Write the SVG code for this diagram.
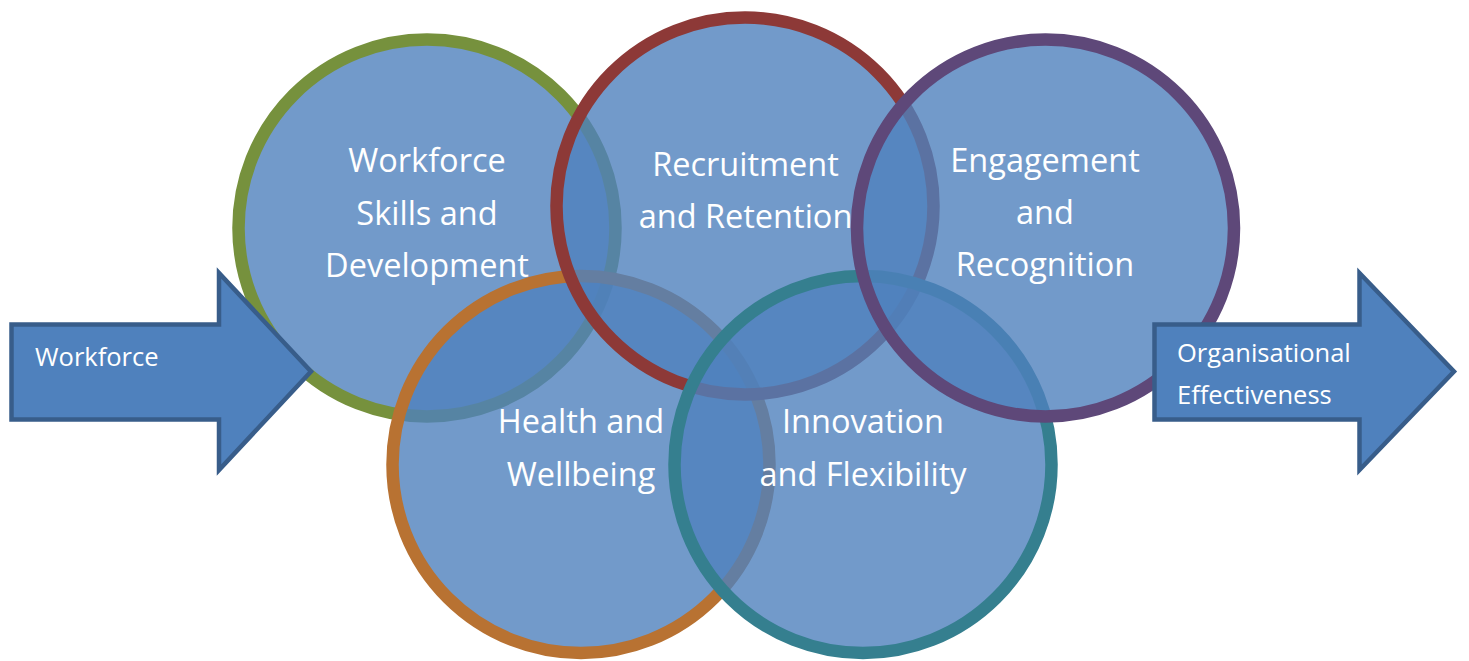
<svg xmlns="http://www.w3.org/2000/svg" width="1469" height="661" viewBox="0 0 1469 661">
<style>
.c{fill:#4F81BD;fill-opacity:0.8;stroke-width:12.5}
.t{font-family:"Open Sans","Liberation Sans",sans-serif;font-size:32.5px;fill:#FFFFFF;text-anchor:middle}
.a{fill:#4F81BD;stroke:#385D8A;stroke-width:4.5;stroke-linejoin:miter}
.at{font-family:"Open Sans","Liberation Sans",sans-serif;font-size:25.5px;fill:#FFFFFF}
</style>
<rect width="1469" height="661" fill="#FFFFFF"/>
<g id="skills">
<circle class="c" cx="427" cy="228" r="188.5" stroke="#76913D"/>
<text class="t" x="427" y="172">Workforce</text>
<text class="t" x="427" y="225">Skills and</text>
<text class="t" x="427" y="277">Development</text>
</g>
<g id="health">
<circle class="c" cx="581" cy="464.5" r="188.5" stroke="#B87232"/>
</g>
<g id="recruitment">
<circle class="c" cx="745" cy="206" r="188.5" stroke="#8D3937"/>
</g>
<g id="innovation">
<circle class="c" cx="863" cy="464.5" r="188.5" stroke="#357F8F"/>
</g>
<g id="engagement">
<circle class="c" cx="1045.5" cy="228" r="188.5" stroke="#5E4879"/>
</g>
<g id="labels">
<text class="t" x="745.5" y="176">Recruitment</text>
<text class="t" x="745.5" y="228">and Retention</text>
<text class="t" x="1045" y="172">Engagement</text>
<text class="t" x="1045" y="224">and</text>
<text class="t" x="1045" y="276">Recognition</text>
<text class="t" x="581" y="433">Health and</text>
<text class="t" x="581" y="486">Wellbeing</text>
<text class="t" x="863" y="433">Innovation</text>
<text class="t" x="863" y="486">and Flexibility</text>
</g>
<g id="connectors">
<g id="arrow-workforce">
<path class="a" d="M11.5,324.5 H219 V273 L311,371.5 L219,470 V419.5 H11.5 Z"/>
<text class="at" x="35" y="366">Workforce</text>
</g>
<g id="arrow-effectiveness">
<path class="a" d="M1154.5,324.5 H1359.5 V273 L1454,371.5 L1359.5,470 V419.5 H1154.5 Z"/>
<text class="at" x="1177" y="362">Organisational</text>
<text class="at" x="1177" y="404">Effectiveness</text>
</g>
</g>
</svg>
